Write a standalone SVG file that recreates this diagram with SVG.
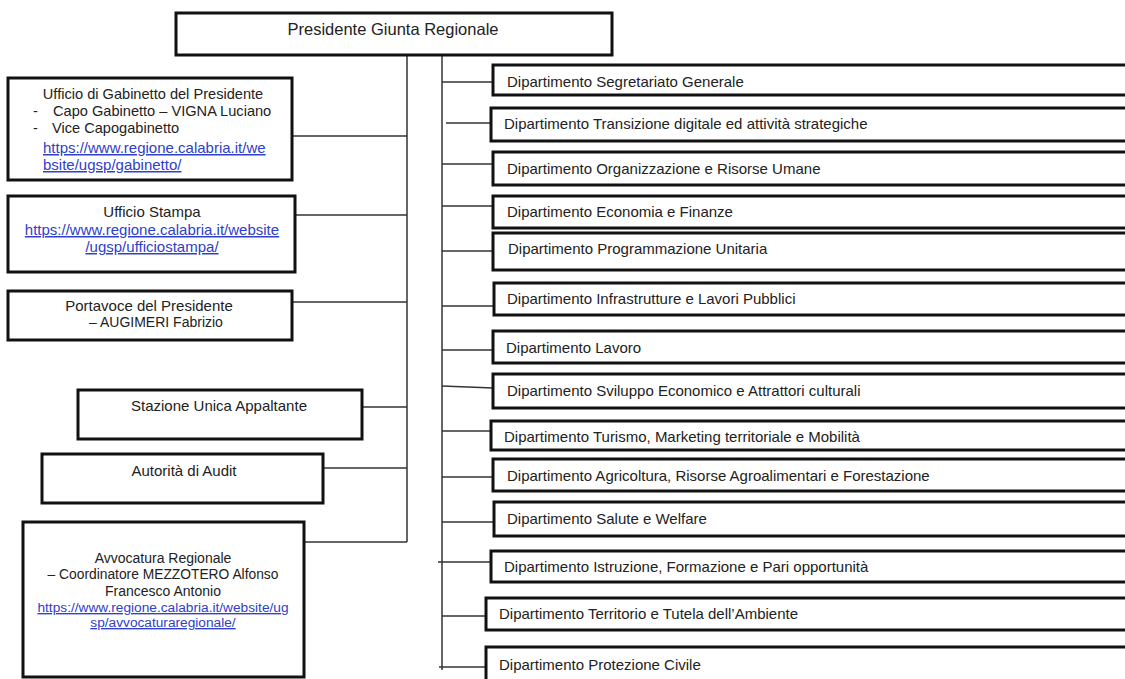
<svg xmlns="http://www.w3.org/2000/svg" width="1125" height="679" viewBox="0 0 1125 679">
<style>
.box{fill:#fff;stroke:#111;stroke-width:3}
.ln{stroke:#333;stroke-width:1.5;fill:none}
.t{font-family:"Liberation Sans",Arial,sans-serif;fill:#222}
.c{text-anchor:middle}
.lk{fill:#3040c8;text-decoration:underline}
.d{font-family:"Liberation Sans",Arial,sans-serif;fill:#222;font-size:15px}
</style>
<rect width="1125" height="679" fill="#fff"/>
<g id="connectors">
<line class="ln" x1="407" y1="55" x2="407" y2="542"/>
<line class="ln" x1="442" y1="41" x2="442" y2="670"/>
<line class="ln" x1="292" y1="136" x2="407" y2="136"/>
<line class="ln" x1="292" y1="215" x2="407" y2="215"/>
<line class="ln" x1="292" y1="302" x2="407" y2="302"/>
<line class="ln" x1="362" y1="407" x2="407" y2="407"/>
<line class="ln" x1="323" y1="468" x2="407" y2="468"/>
<line class="ln" x1="302" y1="542" x2="407" y2="542"/>
<line class="ln" x1="442" y1="82" x2="493" y2="82"/>
<line class="ln" x1="446" y1="123" x2="491" y2="123"/>
<line class="ln" x1="442" y1="164" x2="493" y2="164"/>
<line class="ln" x1="442" y1="206" x2="493" y2="206"/>
<line class="ln" x1="442" y1="251" x2="493" y2="251"/>
<line class="ln" x1="442" y1="306" x2="494" y2="306"/>
<line class="ln" x1="442" y1="350" x2="493" y2="350"/>
<line class="ln" x1="442" y1="386" x2="493" y2="388"/>
<line class="ln" x1="442" y1="431" x2="491" y2="431"/>
<line class="ln" x1="442" y1="477" x2="493" y2="477"/>
<line class="ln" x1="442" y1="522" x2="494" y2="522"/>
<line class="ln" x1="438" y1="562" x2="491" y2="562"/>
<line class="ln" x1="442" y1="616" x2="486" y2="616"/>
<line class="ln" x1="439" y1="667" x2="486" y2="667"/>
</g>
<g id="presidente">
<rect class="box" x="176" y="13" width="436" height="42"/>
<text class="t c" x="393" y="35" font-size="16.5">Presidente Giunta Regionale</text>
</g>
<g id="gabinetto">
<rect class="box" x="8" y="78" width="284" height="102"/>
<text class="t c" x="153" y="99" font-size="14.6">Ufficio di Gabinetto del Presidente</text>
<text class="t" x="33" y="116" font-size="14.6">-</text>
<text class="t" x="53" y="116" font-size="14.6">Capo Gabinetto – VIGNA Luciano</text>
<text class="t" x="33" y="133" font-size="14.6">-</text>
<text class="t" x="52" y="133" font-size="14.6">Vice Capogabinetto</text>
<text class="t lk" x="43" y="153" font-size="15">https://www.regione.calabria.it/we</text>
<text class="t lk" x="43" y="170" font-size="15">bsite/ugsp/gabinetto/</text>
</g>
<g id="stampa">
<rect class="box" x="8" y="196" width="287" height="76"/>
<text class="t c" x="152" y="217" font-size="15">Ufficio Stampa</text>
<text class="t c lk" x="152" y="235" font-size="15">https://www.regione.calabria.it/website</text>
<text class="t c lk" x="152" y="252" font-size="15">/ugsp/ufficiostampa/</text>
</g>
<g id="portavoce">
<rect class="box" x="8" y="291" width="284" height="49"/>
<text class="t c" x="149" y="311" font-size="15">Portavoce del Presidente</text>
<text class="t c" x="156" y="327" font-size="14">– AUGIMERI Fabrizio</text>
</g>
<g id="stazione">
<rect class="box" x="78" y="390" width="284" height="49"/>
<text class="t c" x="219" y="411" font-size="15">Stazione Unica Appaltante</text>
</g>
<g id="audit">
<rect class="box" x="42" y="454" width="281" height="49"/>
<text class="t c" x="184" y="476" font-size="15">Autorità di Audit</text>
</g>
<g id="avvocatura">
<rect class="box" x="23" y="522" width="281" height="155"/>
<text class="t c" x="163" y="563" font-size="14">Avvocatura Regionale</text>
<text class="t c" x="163" y="579" font-size="13.8">– Coordinatore MEZZOTERO Alfonso</text>
<text class="t c" x="163" y="596" font-size="14">Francesco Antonio</text>
<text class="t c lk" x="163" y="612" font-size="13.7">https://www.regione.calabria.it/website/ug</text>
<text class="t c lk" x="163" y="627" font-size="13.7">sp/avvocaturaregionale/</text>
</g>
<g id="d1"><rect class="box" x="493" y="65" width="650" height="30"/><text class="d" x="507" y="87">Dipartimento Segretariato Generale</text></g>
<g id="d2"><rect class="box" x="491" y="108" width="650" height="33"/><text class="d" x="504" y="128.5">Dipartimento Transizione digitale ed attività strategiche</text></g>
<g id="d3"><rect class="box" x="493" y="152" width="650" height="33"/><text class="d" x="507" y="174">Dipartimento Organizzazione e Risorse Umane</text></g>
<g id="d4"><rect class="box" x="493" y="196" width="650" height="32"/><text class="d" x="507" y="216.5">Dipartimento Economia e Finanze</text></g>
<g id="d5"><rect class="box" x="493" y="233" width="650" height="37"/><text class="d" x="508" y="254">Dipartimento Programmazione Unitaria</text></g>
<g id="d6"><rect class="box" x="494" y="283" width="650" height="32"/><text class="d" x="507" y="304">Dipartimento Infrastrutture e Lavori Pubblici</text></g>
<g id="d7"><rect class="box" x="493" y="331" width="650" height="32"/><text class="d" x="506" y="353">Dipartimento Lavoro</text></g>
<g id="d8"><rect class="box" x="493" y="374" width="650" height="34"/><text class="d" x="507" y="396">Dipartimento Sviluppo Economico e Attrattori culturali</text></g>
<g id="d9"><rect class="box" x="491" y="421" width="650" height="29"/><text class="d" x="504" y="442">Dipartimento Turismo, Marketing territoriale e Mobilità</text></g>
<g id="d10"><rect class="box" x="493" y="459" width="650" height="32"/><text class="d" x="507" y="480.5">Dipartimento Agricoltura, Risorse Agroalimentari e Forestazione</text></g>
<g id="d11"><rect class="box" x="494" y="502" width="650" height="34"/><text class="d" x="507" y="524">Dipartimento Salute e Welfare</text></g>
<g id="d12"><rect class="box" x="491" y="551" width="650" height="31"/><text class="d" x="504" y="572">Dipartimento Istruzione, Formazione e Pari opportunità</text></g>
<g id="d13"><rect class="box" x="486" y="598" width="650" height="32"/><text class="d" x="499" y="619">Dipartimento Territorio e Tutela dell’Ambiente</text></g>
<g id="d14"><rect class="box" x="486" y="647" width="650" height="50"/><text class="d" x="499" y="670">Dipartimento Protezione Civile</text></g>
</svg>
